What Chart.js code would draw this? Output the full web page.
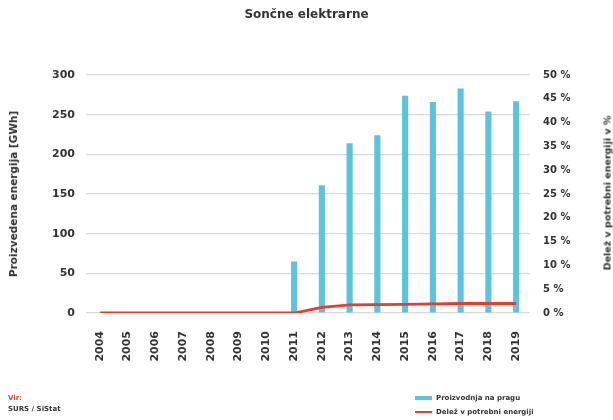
<!DOCTYPE html>
<html>
<head>
<meta charset="utf-8">
<script src="https://cdn.jsdelivr.net/npm/chart.js@4/dist/chart.umd.min.js"></script>
<style>
  html, body { margin: 0; padding: 0; background: #fff; }
  #wrap { position: relative; width: 613px; height: 420px; overflow: hidden; font-family: "DejaVu Sans", sans-serif; }
  canvas { position: absolute; left: 0; top: 0; }
  .ytitle { position: absolute; font-weight: bold; font-size: 10px; color: #333; white-space: nowrap; transform: translate(-50%, -50%) rotate(-90deg); }
  #legend { position: absolute; left: 415px; top: 391px; font-size: 7px; font-weight: bold; color: #333; }
  .lg { display: flex; align-items: center; height: 14px; white-space: nowrap; }
  .lg span.sw { display: inline-block; width: 17px; margin-right: 4px; }
  #src { position: absolute; left: 8px; top: 393px; font-size: 7px; font-weight: bold; line-height: 11px; color: #333; }
</style>
</head>
<body>
<div id="wrap">
  <canvas id="c" width="613" height="420"></canvas>
  <div class="ytitle" id="yl" style="left:13px; top:194px; font-size:10.5px;"></div>
  <div class="ytitle" id="yr" style="left:607px; top:193px; font-size:9.5px;"></div>
  <div id="legend"></div>
  <div id="src"><div style="color:#ee3a2b">Vir:</div><div>SURS / SiStat</div></div>
</div>
<script>
const chartTitle = "Sončne elektrarne";
const years = ["2004","2005","2006","2007","2008","2009","2010","2011","2012","2013","2014","2015","2016","2017","2018","2019"];
const productionLabel = "Proizvodnja na pragu";
const production = [0, 0, 0, 0, 0, 0, 0, 65, 161, 214, 224, 274, 266, 283, 254, 267];
const shareLabel = "Delež v potrebni energiji";
const share = [0, 0, 0, 0, 0, 0, 0, 0, 1.2, 1.7, 1.75, 1.8, 1.9, 2.0, 2.0, 2.0];
const leftTitle = "Proizvedena energija [GWh]";
const rightTitle = "Delež v potrebni energiji v %";

const blue = "#5bc4dc";
const red = "#ee3a2b";
const txt = "#333333";

document.getElementById("yl").textContent = leftTitle;
document.getElementById("yr").textContent = rightTitle;
document.getElementById("legend").innerHTML =
  '<div class="lg"><span class="sw" style="height:4px;background:' + blue + '"></span>' + productionLabel + '</div>' +
  '<div class="lg"><span class="sw" style="height:2px;background:' + red + '"></span>' + shareLabel + '</div>';

new Chart(document.getElementById("c"), {
  data: {
    labels: years,
    datasets: [
      { type: "line", label: shareLabel, data: share, yAxisID: "y1", borderColor: red, borderWidth: 2.8, pointRadius: 0, tension: 0, order: 0 },
      { type: "bar", label: productionLabel, data: production, yAxisID: "y", backgroundColor: blue, categoryPercentage: 1, barPercentage: 0.22, order: 1 }
    ]
  },
  options: {
    responsive: false,
    animation: false,
    layout: { padding: 0 },
    plugins: {
      legend: { display: false },
      tooltip: { enabled: false },
      title: { display: true, text: chartTitle, color: txt, font: { family: "DejaVu Sans", size: 12, weight: "bold" }, padding: { top: 8, bottom: 52.6 } }
    },
    scales: {
      x: {
        grid: { display: false },
        border: { display: false },
        ticks: { color: txt, font: { family: "DejaVu Sans", size: 11, weight: "bold" }, minRotation: 90, maxRotation: 90, padding: 10, autoSkip: false },
        afterFit: (s) => { s.height = 107; }
      },
      y: {
        position: "left",
        min: 0, max: 300,
        grid: { color: "#d9d9d9", lineWidth: 1.2, drawTicks: false },
        border: { display: false },
        ticks: { stepSize: 50, color: txt, font: { family: "DejaVu Sans", size: 11, weight: "bold" }, padding: 11 },
        afterFit: (s) => { s.width = 86; }
      },
      y1: {
        position: "right",
        min: 0, max: 50,
        grid: { display: false, drawTicks: false },
        border: { display: false },
        ticks: { stepSize: 5, color: txt, font: { family: "DejaVu Sans", size: 10, weight: "bold" }, padding: 13, callback: (v) => v + " %" },
        afterFit: (s) => { s.width = 83; }
      }
    }
  }
});
</script>
</body>
</html>
